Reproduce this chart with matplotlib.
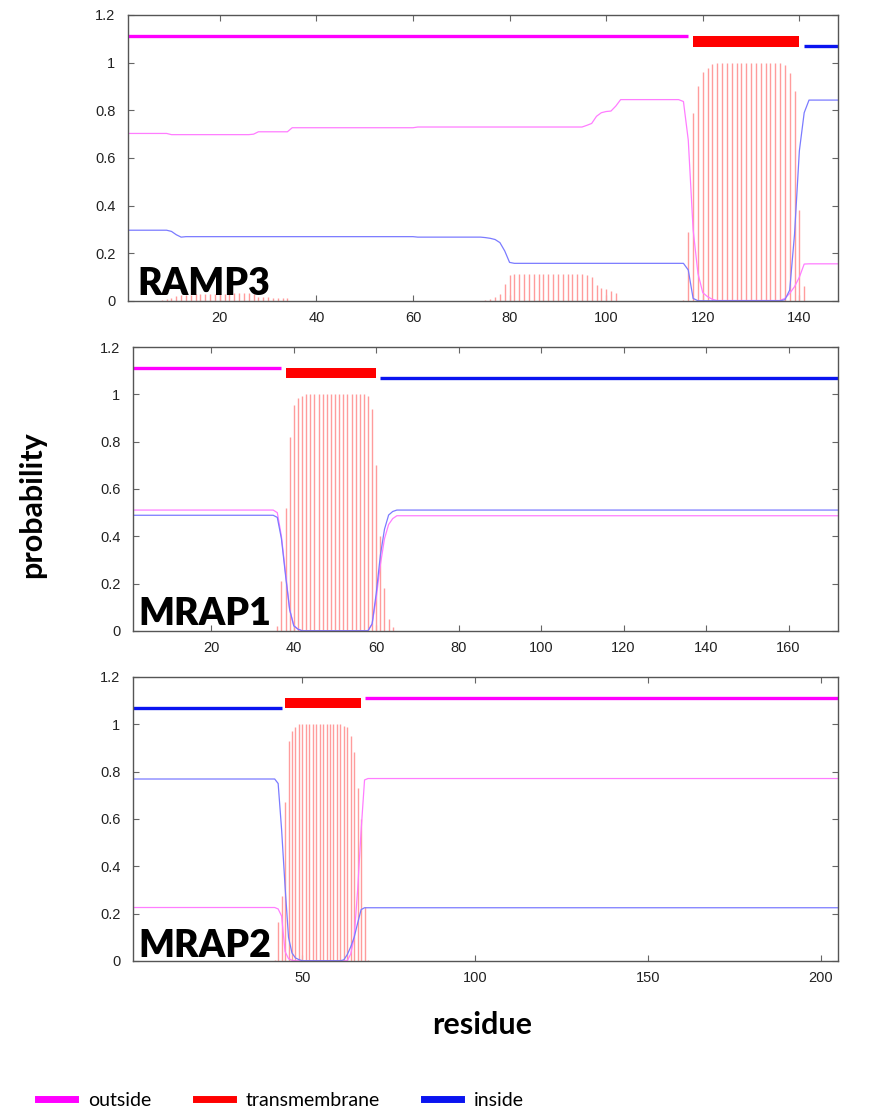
import matplotlib
matplotlib.use('Agg')
import matplotlib.pyplot as plt
from matplotlib import font_manager
from matplotlib.lines import Line2D

# TMHMM posterior probabilities, one value per residue

# RAMP3, 148 residues
ramp3_tm = ([0.0] * 7
            + [0.004, 0.008, 0.012, 0.020, 0.025, 0.026, 0.027, 0.028, 0.028,
               0.029, 0.029, 0.030, 0.030, 0.031, 0.032, 0.033, 0.034, 0.034,
               0.033, 0.030, 0.018, 0.016, 0.015, 0.014, 0.013, 0.012, 0.011]
            + [0.0] * 40
            + [0.005, 0.010, 0.018, 0.030, 0.070, 0.110] + [0.113] * 15
            + [0.110, 0.100, 0.067, 0.053, 0.049, 0.042, 0.032]
            + [0.0] * 13
            + [0.005, 0.288, 0.790, 0.900, 0.962, 0.976, 0.993] + [1.0] * 14
            + [0.990, 0.958, 0.881, 0.380, 0.063]
            + [0.0] * 7)
ramp3_out = ([0.703] * 9 + [0.698] * 17 + [0.700] + [0.710] * 7
             + [0.727] * 26 + [0.730] * 35
             + [0.737, 0.745, 0.775, 0.790, 0.795, 0.797, 0.818]
             + [0.845] * 13
             + [0.837, 0.675, 0.300, 0.116, 0.035, 0.018, 0.007]
             + [0.002] * 14
             + [0.011, 0.032, 0.060, 0.100, 0.155]
             + [0.156] * 7)
ramp3_in = ([0.297] * 9 + [0.292, 0.278, 0.268] + [0.270] * 48 + [0.268] * 14
            + [0.266, 0.263, 0.258, 0.245, 0.210, 0.162]
            + [0.158] * 36
            + [0.130, 0.011]
            + [0.001] * 18
            + [0.005, 0.046, 0.280, 0.630, 0.790]
            + [0.843] * 7)
ramp3_topo = [('outside', 1, 117), ('tm', 118, 140), ('inside', 141, 148)]

# MRAP1, 172 residues
mrap1_tm = ([0.0] * 35
            + [0.020, 0.210, 0.520, 0.820, 0.955, 0.983, 0.995] + [1.0] * 15
            + [0.995, 0.940, 0.700, 0.400, 0.180, 0.050, 0.017]
            + [0.0] * 108)
mrap1_out = ([0.511] * 35
             + [0.500, 0.400, 0.245, 0.090, 0.023, 0.008]
             + [0.001] * 17
             + [0.030, 0.140, 0.280, 0.390, 0.450, 0.475]
             + [0.487] * 108)
mrap1_in = ([0.489] * 35
            + [0.480, 0.390, 0.235, 0.090, 0.022, 0.008]
            + [0.001] * 17
            + [0.030, 0.160, 0.320, 0.430, 0.490, 0.505]
            + [0.511] * 108)
mrap1_topo = [('outside', 1, 37), ('tm', 38, 60), ('inside', 61, 172)]

# MRAP2, 205 residues
mrap2_tm = ([0.0] * 41
            + [0.005, 0.163, 0.276, 0.670, 0.930, 0.970, 0.990] + [1.0] * 13
            + [0.995, 0.990, 0.950, 0.885, 0.730, 0.600, 0.230, 0.005]
            + [0.0] * 136)
mrap2_in = ([0.769] * 42
            + [0.750, 0.555, 0.315, 0.100, 0.034, 0.013, 0.006]
            + [0.001] * 12
            + [0.005, 0.027, 0.060, 0.100, 0.160, 0.217]
            + [0.225] * 138)
mrap2_out = ([0.226] * 42
             + [0.220, 0.190, 0.040, 0.010, 0.003]
             + [0.001] * 16
             + [0.030, 0.100, 0.300, 0.550, 0.765]
             + [0.771] * 137)
mrap2_topo = [('inside', 1, 44), ('tm', 45, 67), ('outside', 68, 205)]

names = ['RAMP3', 'MRAP1', 'MRAP2']
xticks = [[20, 40, 60, 80, 100, 120, 140],
          [20, 40, 60, 80, 100, 120, 140, 160],
          [50, 100, 150, 200]]
yticks = [0, 0.2, 0.4, 0.6, 0.8, 1, 1.2]
ylabels = ['0', '0.2', '0.4', '0.6', '0.8', '1', '1.2']

W, H = 878, 1117
# axes boxes in pixels: left, right, top, bottom
boxes = [(128, 838, 15, 301), (133, 838, 347, 631), (133, 838, 677, 961)]
# where the protein name sits (left edge, baseline), pixels
name_pos = [(137, 295), (138, 625), (138, 957)]

avail = {f.name for f in font_manager.fontManager.ttflist}
head_font = 'Lato' if 'Lato' in avail else 'DejaVu Sans'

plt.rcParams['font.family'] = ['Liberation Sans', 'DejaVu Sans']

c_out = '#ff7dff'
c_in = '#7b7bff'
c_tm = '#ff9c9c'
bar_col = {'outside': '#ff00ff', 'inside': '#0a14f0'}

fig = plt.figure(figsize=(W / 100, H / 100), dpi=100)

data = [(ramp3_tm, ramp3_out, ramp3_in, ramp3_topo),
        (mrap1_tm, mrap1_out, mrap1_in, mrap1_topo),
        (mrap2_tm, mrap2_out, mrap2_in, mrap2_topo)]

for i, (tm, out, inn, topo) in enumerate(data):
    l, r, t, b = boxes[i]
    ax = fig.add_axes([l / W, 1 - b / H, (r - l) / W, (b - t) / H])
    n = len(tm)
    res = list(range(1, n + 1))
    ax.vlines(res, 0, tm, color=c_tm, lw=1.0)
    ax.plot(res, out, color=c_out, lw=0.9)
    ax.plot(res, inn, color=c_in, lw=0.9)
    for kind, s, e in topo:
        if kind == 'tm':
            ax.fill_between([s, e], 1.067, 1.112, color='red', lw=0)
        elif kind == 'outside':
            ax.hlines(1.11, s, e, color=bar_col[kind], lw=2.4)
        else:
            ax.hlines(1.068, s, e, color=bar_col[kind], lw=2.4)
    ax.set_xlim(1, n)
    ax.set_ylim(0, 1.2)
    ax.set_xticks(xticks[i])
    ax.set_yticks(yticks)
    ax.set_yticklabels(ylabels)
    ax.tick_params(direction='in', top=True, right=True, length=4, width=0.8,
                   color='#666666', labelsize=10.5, labelcolor='#222222', pad=7)
    ax.tick_params(axis='y', pad=9)
    for sp in ax.spines.values():
        sp.set_color('#555555')
        sp.set_linewidth(1.0)
    nx, ny = name_pos[i]
    fig.text(nx / W, 1 - ny / H, names[i], fontsize=27, fontweight='heavy',
             family=head_font, ha='left', va='baseline')

fig.text(32 / W, 1 - 505 / H, 'probability', rotation=90, fontsize=22,
         fontweight='bold', family=head_font, ha='center', va='center')
fig.text(482 / W, 1 - 1025 / H, 'residue', fontsize=22, fontweight='bold',
         family=head_font, ha='center', va='center')

handles = [Line2D([], [], color='#ff00ff', lw=5),
           Line2D([], [], color='red', lw=5),
           Line2D([], [], color='#0a14f0', lw=5)]
fig.legend(handles, ['outside', 'transmembrane', 'inside'], ncol=3,
           loc='center', bbox_to_anchor=(281 / W, 1 - 1100 / H), frameon=False,
           prop={'family': head_font, 'size': 14}, handlelength=1.9,
           handletextpad=0.65, columnspacing=2.3)

fig.savefig('out.png', dpi=100)
